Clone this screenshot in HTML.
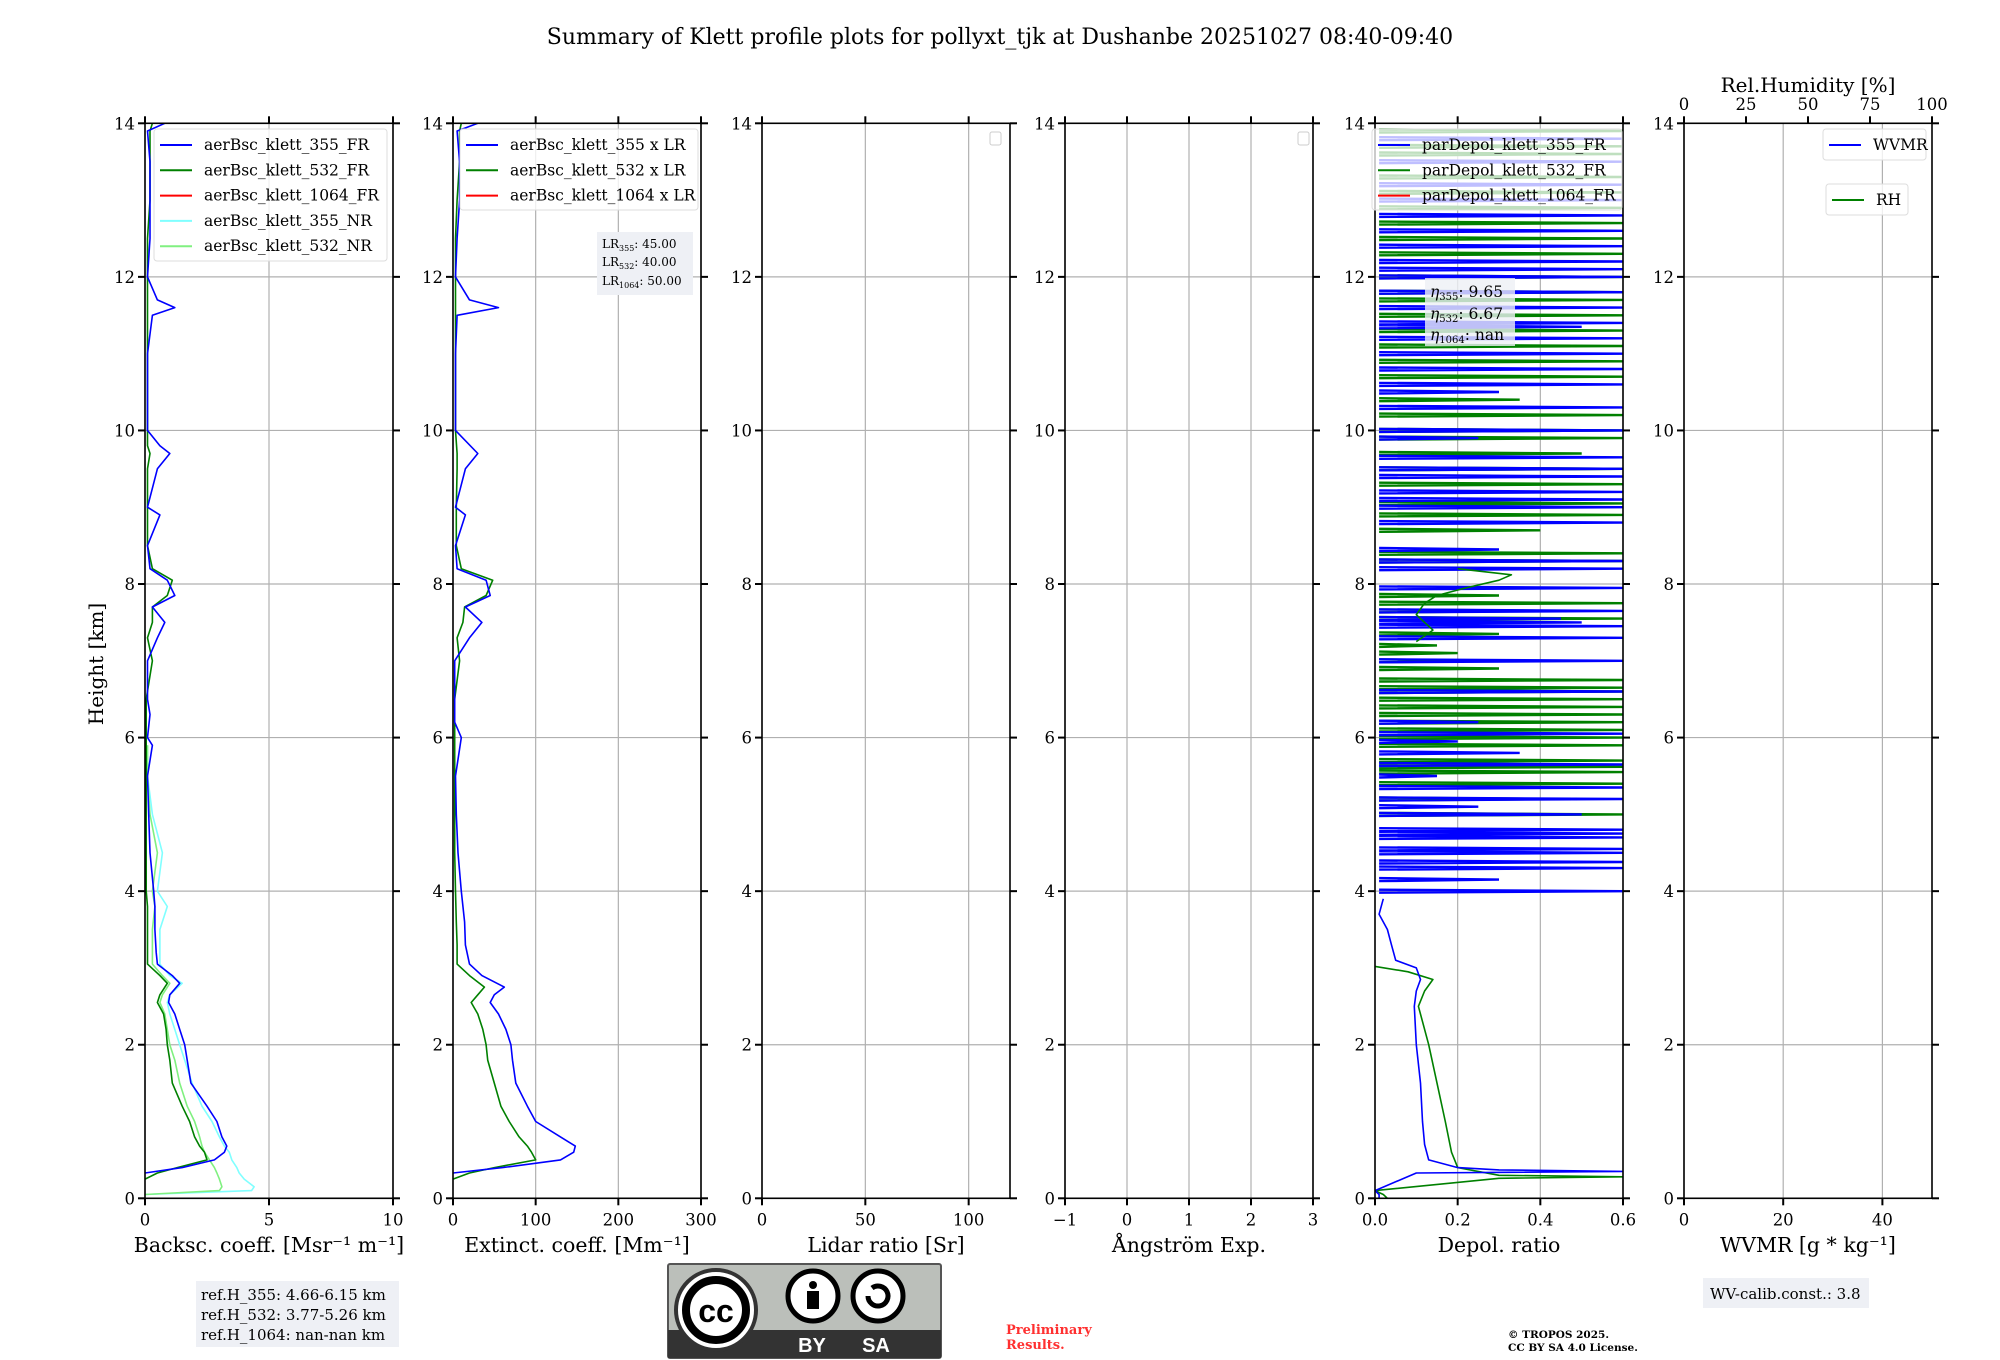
<!DOCTYPE html>
<html><head><meta charset="utf-8"><style>
html,body{margin:0;padding:0;background:#fff}
svg{display:block;font-family:"DejaVu Serif","Liberation Serif",serif}
</style></head><body>
<svg id="fig" width="2000" height="1360" viewBox="0 0 2000 1360" xmlns="http://www.w3.org/2000/svg">
<rect width="2000" height="1360" fill="#fff"/>
<text x="1000" y="44" font-size="22" text-anchor="middle">Summary of Klett profile plots for pollyxt_tjk at Dushanbe 20251027 08:40-09:40</text>
<text transform="translate(103,664) rotate(-90)" font-size="20" text-anchor="middle">Height [km]</text>
<g id="plots"></g>
<g>
<rect x="196" y="1281" width="203" height="66" fill="#eef0f5"/>
<text x="201" y="1300" font-size="15">ref.H_355: 4.66-6.15 km</text>
<text x="201" y="1320" font-size="15">ref.H_532: 3.77-5.26 km</text>
<text x="201" y="1340" font-size="15">ref.H_1064: nan-nan km</text>
</g>
<g>
<rect x="668" y="1264" width="273" height="94" rx="2" fill="#bbbfba" stroke="#555" stroke-width="2"/>
<rect x="668" y="1330" width="273" height="28" fill="#333"/>
<circle cx="716" cy="1310" r="40" fill="#fff" stroke="#333" stroke-width="4"/>
<circle cx="716" cy="1310" r="30" fill="#fff" stroke="#000" stroke-width="8"/>
<text x="716" y="1322" font-size="32" font-weight="bold" text-anchor="middle" font-family="Liberation Sans,sans-serif">cc</text>
<circle cx="813" cy="1296" r="25" fill="#fff" stroke="#000" stroke-width="5"/>
<circle cx="813" cy="1285" r="4" fill="#000"/><rect x="807" y="1291" width="12" height="18" fill="#000"/>
<circle cx="878" cy="1296" r="25" fill="#fff" stroke="#000" stroke-width="5"/>
<path d="M868 1296 a10 10 0 1 0 4 -8" fill="none" stroke="#000" stroke-width="5"/>
<text x="812" y="1352" font-size="20" fill="#fff" font-weight="bold" text-anchor="middle" font-family="Liberation Sans,sans-serif">BY</text>
<text x="876" y="1352" font-size="20" fill="#fff" font-weight="bold" text-anchor="middle" font-family="Liberation Sans,sans-serif">SA</text>
</g>
<text x="1006" y="1334" font-size="13" font-weight="bold" fill="#ff3030">Preliminary</text>
<text x="1006" y="1349" font-size="13" font-weight="bold" fill="#ff3030">Results.</text>
<text x="1508" y="1338" font-size="10.5" font-weight="bold">© TROPOS 2025.</text>
<text x="1508" y="1351" font-size="10.5" font-weight="bold">CC BY SA 4.0 License.</text>
<g>
<rect x="1703" y="1278" width="166" height="30" fill="#eef0f5"/>
<text x="1710" y="1299" font-size="15">WV-calib.const.: 3.8</text>
</g>
</svg>
<script>
// ===== data =====
const hBsc = [0.05,0.1,0.15,0.25,0.33,0.4,0.5,0.6,0.68,0.8,1.0,1.2,1.5,1.8,2.0,2.2,2.4,2.55,2.65,2.8,2.9,3.05,3.2,3.5,3.8,4.0,4.5,5.0,5.5,5.9,6.0,6.3,6.5,7.0,7.3,7.5,7.7,7.85,8.05,8.2,8.5,8.9,9.0,9.5,9.7,9.8,10.0,10.5,11.0,11.5,11.6,11.7,12.0,12.5,13.0,13.5,13.9,14.0];
const bsc355FR = [null,null,null,null,0.0,1.5,2.8,3.2,3.3,3.1,2.9,2.5,1.85,1.7,1.6,1.4,1.2,0.95,1.0,1.4,1.1,0.5,0.45,0.4,0.4,0.35,0.2,0.15,0.1,0.3,0.1,0.2,0.1,0.1,0.5,0.8,0.3,1.2,0.9,0.2,0.1,0.6,0.1,0.5,1.0,0.6,0.1,0.1,0.1,0.3,1.2,0.5,0.1,0.2,0.2,0.2,0.1,0.8];
const bsc532FR = [null,null,null,0.0,0.5,1.3,2.5,2.4,2.2,2.0,1.8,1.5,1.1,1.0,0.9,0.85,0.75,0.5,0.6,0.9,0.6,0.1,0.1,0.1,0.1,0.05,0.05,0.05,0.05,0.05,0.05,0.05,0.05,0.3,0.1,0.3,0.3,0.9,1.1,0.3,0.1,0.1,0.1,0.1,0.2,0.1,0.1,0.1,0.1,0.1,0.1,0.1,0.1,0.1,0.2,0.2,0.2,0.3];
const bsc355NR = [0.0,4.3,4.4,4.0,3.8,3.7,3.5,3.4,3.2,3.0,2.7,2.3,1.9,1.6,1.4,1.2,1.0,0.9,1.0,1.5,1.0,0.6,0.6,0.6,0.9,0.5,0.7,0.3,0.1,0.1,null,null,null,null,null,null,null,null,null,null,null,null,null,null,null,null,null,null,null,null,null,null,null,null,null,null,null,null];
const bsc532NR = [0.0,3.0,3.1,3.0,2.9,2.8,2.6,2.4,2.3,2.2,2.0,1.7,1.4,1.2,1.0,0.9,0.8,0.6,0.7,1.0,0.7,0.3,0.3,0.3,0.4,0.3,0.5,0.2,0.1,0.1,null,null,null,null,null,null,null,null,null,null,null,null,null,null,null,null,null,null,null,null,null,null,null,null,null,null,null,null];
const hExt = [0.25,0.33,0.4,0.5,0.6,0.68,0.8,1.0,1.2,1.5,1.8,2.0,2.2,2.4,2.55,2.65,2.75,2.9,3.05,3.3,3.6,4.0,4.5,5.0,5.5,6.0,6.2,6.5,7.0,7.3,7.5,7.7,7.85,8.05,8.2,8.5,8.9,9.0,9.5,9.7,10.0,10.5,11.0,11.5,11.6,11.7,12.0,12.5,13.0,13.5,13.9,14.0];
const ext355 = [null,0,60,130,146,148,130,100,90,76,72,70,64,55,45,50,62,35,20,15,14,10,6,4,3,10,2,2,2,20,35,15,45,40,5,3,15,3,15,30,3,3,3,5,55,20,3,5,8,8,5,30];
const ext532 = [0,20,50,100,95,90,80,68,58,50,42,40,36,30,22,30,38,20,5,5,4,3,2,2,2,2,2,2,8,5,12,14,40,48,10,4,4,4,5,5,3,3,3,3,3,3,3,3,5,8,8,10];
const depH355 = [0,0.05,0.1,0.33,0.35,0.37,0.4,0.5,0.7,1.0,1.5,2.0,2.5,2.7,2.85,3.0,3.1,3.3,3.5,3.7,3.9];
const dep355 = [0.01,0.01,0,0.1,0.6,0.3,0.2,0.13,0.12,0.115,0.11,0.1,0.095,0.1,0.11,0.1,0.05,0.04,0.03,0.01,0.02];
const depH532 = [0,0.05,0.1,0.26,0.28,0.3,0.4,0.6,1.0,1.5,2.0,2.5,2.7,2.85,2.95,3.02];
const dep532 = [0.03,0.02,0,0.3,0.6,0.3,0.2,0.185,0.17,0.15,0.13,0.105,0.12,0.14,0.08,0.0];
const depMidH532 = [7.25,7.4,7.5,7.6,7.75,7.85,7.95,8.05,8.12,8.2];
const depMid532 = [0.1,0.14,0.12,0.1,0.12,0.15,0.22,0.3,0.33,0.2];
const spikeH355 = [4.0,4.15,4.3,4.38,4.5,4.55,4.7,4.75,4.8,5.0,5.1,5.2,5.35,5.5,5.65,5.8,5.95,6.05,6.2,6.6,7.0,7.3,7.45,7.5,7.55,7.65,7.95,8.2,8.3,8.45,8.8,9.0,9.1,9.2,9.4,9.5,9.65,9.9,10.0,10.3,10.5,10.6,10.8,11.0,11.2,11.35,11.4,11.6,11.8,12.0,12.1,12.2,12.4,12.6,12.8,13.0,13.2,13.5,13.8];
const spike355 = [0.6,0.3,0.6,0.6,0.6,0.6,0.6,0.6,0.6,0.5,0.25,0.6,0.6,0.15,0.6,0.35,0.2,0.6,0.25,0.6,0.6,0.6,0.6,0.5,0.45,0.6,0.6,0.6,0.6,0.3,0.6,0.6,0.6,0.6,0.6,0.6,0.6,0.25,0.6,0.6,0.3,0.6,0.6,0.6,0.6,0.5,0.6,0.6,0.6,0.6,0.6,0.6,0.6,0.6,0.6,0.6,0.6,0.6,0.6];
const spikeH532 = [5.0,5.2,5.4,5.55,5.62,5.7,5.9,6.0,6.1,6.2,6.3,6.4,6.5,6.6,6.65,6.75,6.9,7.0,7.1,7.2,7.35,7.55,7.65,7.75,7.85,8.3,8.4,8.7,8.9,9.05,9.3,9.5,9.7,9.9,10.0,10.2,10.4,10.7,10.9,11.1,11.3,11.5,11.7,11.8,12.0,12.3,12.5,12.7,12.9,13.1,13.3,13.6,13.7,13.9];
const spike532 = [0.6,0.45,0.6,0.6,0.6,0.6,0.6,0.6,0.6,0.6,0.6,0.6,0.6,0.6,0.6,0.6,0.3,0.3,0.2,0.15,0.3,0.6,0.45,0.6,0.3,0.6,0.6,0.4,0.6,0.6,0.6,0.6,0.5,0.6,0.6,0.6,0.35,0.6,0.6,0.6,0.6,0.6,0.6,0.6,0.6,0.6,0.6,0.6,0.6,0.6,0.6,0.6,0.6,0.6];
// ===== layout =====
const NS='http://www.w3.org/2000/svg';
const root=document.getElementById('plots');
const Y0=1198.3, Y14=123.3, PW=248;
const yk=h=>Y0-(Y0-Y14)*h/14;
function mk(tag,attrs,parent){const e=document.createElementNS(NS,tag);for(const k in attrs)e.setAttribute(k,attrs[k]);(parent||root).appendChild(e);return e;}
function txt(x,y,s,size,anchor,parent){const t=mk('text',{x:x,y:y,'font-size':size,'text-anchor':anchor||'middle'},parent);t.textContent=s;return t;}
const panels=[
 {x:145,min:0,max:10,ticks:[0,5,10],label:'Backsc. coeff. [Msr\u207B\u00B9 m\u207B\u00B9]',name:'backscatter'},
 {x:453,min:0,max:300,ticks:[0,100,200,300],label:'Extinct. coeff. [Mm\u207B\u00B9]',name:'extinction'},
 {x:762,min:0,max:120,ticks:[0,50,100],label:'Lidar ratio [Sr]',name:'lidar-ratio'},
 {x:1065,min:-1,max:3,ticks:[-1,0,1,2,3],label:'\u00C5ngstr\u00F6m Exp.',name:'angstrom',lab:['\u22121','0','1','2','3']},
 {x:1375,min:0,max:0.6,ticks:[0,0.2,0.4,0.6],label:'Depol. ratio',name:'depol',lab:['0.0','0.2','0.4','0.6']},
 {x:1684,min:0,max:50,ticks:[0,20,40],label:'WVMR [g * kg\u207B\u00B9]',name:'wvmr'}
];
panels.forEach(p=>{
 const g=mk('g',{});
 
 
 p.g=g; p.sx=v=>p.x+PW*(v-p.min)/(p.max-p.min);
 for(let h=0;h<=14;h+=2){const l=mk('line',{x1:p.x,x2:p.x+PW,y1:yk(h),y2:yk(h),stroke:'#b0b0b0','stroke-width':1.2},g);
  
  }
 p.ticks.forEach((t,i)=>{const X=p.sx(t);
  mk('line',{x1:X,x2:X,y1:Y14,y2:Y0,stroke:'#b0b0b0','stroke-width':1.2},g);
  mk('line',{x1:X,x2:X,y1:Y0,y2:Y0+7,stroke:'#000','stroke-width':2},g);
  if(p.name!=='wvmr') mk('line',{x1:X,x2:X,y1:Y14,y2:Y14-7,stroke:'#000','stroke-width':2},g);
  const tl=txt(X,Y0+27,p.lab?p.lab[i]:String(t),16.5,'middle',g);
  
  
 });
 for(let h=0;h<=14;h+=2){
  mk('line',{x1:p.x-7,x2:p.x,y1:yk(h),y2:yk(h),stroke:'#000','stroke-width':2},g);
  mk('line',{x1:p.x+PW,x2:p.x+PW+7,y1:yk(h),y2:yk(h),stroke:'#000','stroke-width':2},g);
  const yl=txt(p.x-10,yk(h)+6,String(h),16.5,'end',g);
  
  
 }
 const al=txt(p.x+PW/2,1252,p.label,20.5,'middle',g);
 
 
 p.clip='clip'+p.name;
 const cp=mk('clipPath',{id:p.clip},g);mk('rect',{x:p.x,y:Y14,width:PW,height:Y0-Y14},cp);
 p.series=mk('g',{'clip-path':'url(#'+p.clip+')'},g);
});
function line(p,hs,vs,color,name,w,op){
 let d='',pen=false;
 hs.forEach((h,i)=>{const v=vs[i];if(v===null||v===undefined){pen=false;return;}
  const X=Math.min(p.sx(v),p.x+PW+3);d+=(pen?'L':'M')+X.toFixed(1)+' '+yk(h).toFixed(1)+' ';pen=true;});
 const e=mk('path',{d:d,fill:'none',stroke:color,'stroke-width':w||1.6,'stroke-opacity':op||1,'stroke-linejoin':'round'},p.series);
 
 
 return e;
}
function spikes(p,hs,vs,color,name){
 let d='';
 hs.forEach((h,i)=>{const X=Math.min(p.sx(vs[i]),p.x+PW+3);const y=yk(h);
  d+='M'+p.sx(0.01).toFixed(1)+' '+(y+1.5).toFixed(1)+' L'+X.toFixed(1)+' '+y.toFixed(1)+' L'+p.sx(0.01).toFixed(1)+' '+(y-1.5).toFixed(1)+' ';});
 const e=mk('path',{d:d,fill:'none',stroke:color,'stroke-width':2.4},p.series);
 
 
}
const [P1,P2,P3,P4,P5,P6]=panels;
line(P1,hBsc,bsc355NR,'#80ffff','bsc-355-nr-line');
line(P1,hBsc,bsc532NR,'#80f080','bsc-532-nr-line');
line(P1,hBsc,bsc532FR,'#008000','bsc-532-fr-line');
line(P1,hBsc,bsc355FR,'#0000ff','bsc-355-fr-line');
line(P2,hExt,ext532,'#008000','ext-532-line');
line(P2,hExt,ext355,'#0000ff','ext-355-line');
spikes(P5,spikeH532,spike532,'#008000','depol-532-spikes');
spikes(P5,spikeH355,spike355,'#0000ff','depol-355-spikes');
line(P5,depMidH532,depMid532,'#008000','depol-532-mid-line');
line(P5,depH532,dep532,'#008000','depol-532-line');
line(P5,depH355,dep355,'#0000ff','depol-355-line');
panels.forEach(p=>{mk('rect',{x:p.x,y:Y14,width:PW,height:Y0-Y14,fill:'none',stroke:'#000','stroke-width':1.6},p.g);});
[0,25,50,75,100].forEach(v=>{const X=P6.x+PW*v/100;
 mk('line',{x1:X,x2:X,y1:Y14,y2:Y14-7,stroke:'#000','stroke-width':2},P6.g);
 const t=txt(X,110,String(v),16.5,'middle',P6.g);
 
 });
const rht=txt(P6.x+PW/2,92,'Rel.Humidity [%]',20,'middle',P6.g);


function legend(x,y,w,h,entries,gap,name,alpha){
 const g=mk('g',{});
 
 
 mk('rect',{x:x,y:y,width:w,height:h,rx:3,fill:'#fff','fill-opacity':alpha,stroke:'#ddd'},g);
 entries.forEach((e,i)=>{const yy=y+16+i*gap;
  mk('line',{x1:x+6,x2:x+38,y1:yy,y2:yy,stroke:e[1],'stroke-width':2},g);
  txt(x+50,yy+5,e[0],15.5,'start',g);});
}
legend(154,129,233,132,[['aerBsc_klett_355_FR','#0000ff'],['aerBsc_klett_532_FR','#008000'],['aerBsc_klett_1064_FR','#ff0000'],['aerBsc_klett_355_NR','#80ffff'],['aerBsc_klett_532_NR','#80f080']],25.3,'backscatter-legend',0.8);
legend(460,129,238,81,[['aerBsc_klett_355 x LR','#0000ff'],['aerBsc_klett_532 x LR','#008000'],['aerBsc_klett_1064 x LR','#ff0000']],25.3,'extinction-legend',0.8);
legend(1372,129,250,81,[['parDepol_klett_355_FR','#0000ff'],['parDepol_klett_532_FR','#008000'],['parDepol_klett_1064_FR','#ff0000']],25.3,'depol-legend',0.75);
legend(1823,129,103,31,[['WVMR','#0000ff']],0,'wvmr-legend',0.8);
legend(1826,184,82,31,[['RH','#008000']],0,'rh-legend',0.8);
[990,1298].forEach(x=>{const r=mk('rect',{x:x,y:132,width:11,height:13,rx:2,fill:'#fff',stroke:'#ccc'});
 
 });
const lr=mk('g',{});


mk('rect',{x:597,y:232,width:96,height:63,fill:'#eef0f5'},lr);
[['355','45.00',248],['532','40.00',266],['1064','50.00',285]].forEach(a=>{
 const t=mk('text',{x:602,y:a[2],'font-size':12},lr);
 t.innerHTML='LR<tspan font-size="8" dy="3">'+a[0]+'</tspan><tspan dy="-3">: '+a[1]+'</tspan>';});
const eb=mk('g',{});


mk('rect',{x:1425,y:278,width:90,height:68,fill:'#eef0f5','fill-opacity':0.8},eb);
[['355','9.65',297],['532','6.67',319],['1064','nan',340]].forEach(a=>{
 const t=mk('text',{x:1430,y:a[2],'font-size':15.5},eb);
 t.innerHTML='<tspan font-style="italic">\u03B7</tspan><tspan font-size="10" dy="3">'+a[0]+'</tspan><tspan dy="-3">: '+a[1]+'</tspan>';});
</script>
</body></html>
